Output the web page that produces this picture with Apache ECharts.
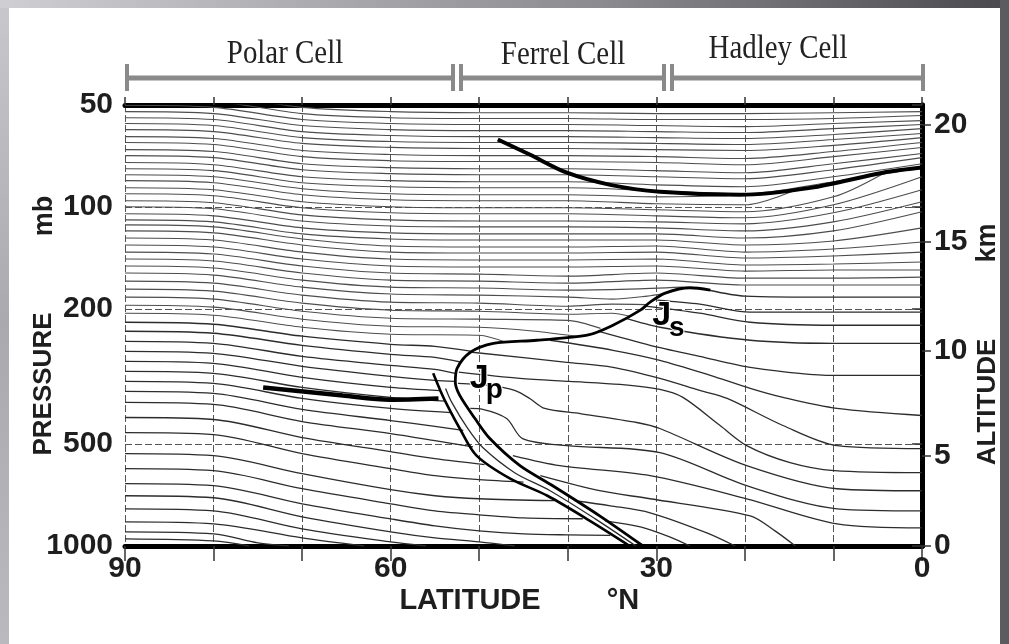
<!DOCTYPE html>
<html>
<head>
<meta charset="utf-8">
<title>Isentropes and the three-cell circulation</title>
<script src="https://cdn.jsdelivr.net/npm/echarts@6/dist/echarts.min.js"></script>
<style>
  html, body { margin: 0; padding: 0; background: #fff; }
  #chart { width: 1009px; height: 644px; }
</style>
</head>
<body>
<div id="chart"></div>
<script>
// ---- axes ----
const latTicks = [90, 60, 30, 0];                 // labelled latitudes (°N)
const pressureTicks = [50, 100, 200, 500, 1000];   // mb
const altitudeKm = [0, 5, 10, 15, 20];             // right-hand scale
const altitudePressure = [1000, 540, 265, 127, 57];// mb at those heights

// ---- circulation cells along the top ----
const cellNames = ['Polar Cell', 'Ferrel Cell', 'Hadley Cell'];

// ---- isentropes: pressure (mb) at the sample latitudes ----
const latSamples = [90, 80, 70, 60, 50, 40, 30, 20, 10, 0];
const upperIsentropes = [
  [46.2, 46.8, 50.8, 52.3, 52.7, 52.7, 53.0, 53.0, 52.7, 52.3],
  [48.2, 48.8, 53.0, 54.5, 54.8, 54.8, 55.2, 55.2, 54.8, 53.7],
  [50.1, 50.8, 55.2, 56.7, 57.1, 57.1, 57.5, 57.9, 56.7, 55.6],
  [52.3, 53.0, 57.5, 59.1, 59.5, 59.5, 59.9, 60.3, 58.7, 57.1],
  [54.5, 55.2, 59.9, 61.5, 62.0, 62.0, 62.4, 62.8, 61.1, 58.7],
  [56.7, 57.5, 62.4, 64.1, 64.5, 64.5, 64.9, 65.4, 63.2, 60.7],
  [59.1, 59.9, 64.9, 66.7, 67.2, 67.2, 67.7, 68.1, 65.8, 62.4],
  [62.0, 62.8, 68.1, 70.0, 70.5, 70.5, 71.0, 71.9, 68.6, 64.5],
  [64.5, 65.4, 71.0, 73.0, 73.4, 73.4, 73.9, 75.0, 71.0, 66.7],
  [67.7, 68.6, 74.5, 76.5, 77.1, 77.1, 78.1, 79.2, 74.5, 69.5],
  [70.5, 71.5, 77.6, 79.7, 80.3, 80.3, 81.4, 82.5, 77.6, 71.5],
  [73.9, 75.0, 81.4, 83.6, 84.2, 84.2, 86.0, 87.1, 81.4, 74.5],
  [77.1, 78.1, 84.8, 87.1, 87.7, 87.7, 89.5, 91.4, 84.2, 76.5],
  [91.4, 92.6, 100.5, 104.0, 104.7, 104.7, 106.2, 107.6, 98.5, 81.4],
  [95.8, 97.1, 105.5, 109.1, 109.9, 109.9, 110.6, 112.1, 104.0, 88.9],
  [99.8, 101.2, 109.9, 113.7, 114.4, 114.4, 115.2, 117.6, 110.6, 96.5],
  [104.7, 106.2, 115.2, 119.2, 120.0, 120.0, 120.0, 123.4, 117.6, 103.3],
  [109.1, 110.6, 120.0, 124.2, 125.1, 125.1, 125.1, 129.4, 125.9, 115.2],
  [112.9, 114.4, 124.2, 130.3, 131.2, 131.2, 130.3, 135.8, 133.0, 126.8],
  [117.6, 119.2, 129.4, 135.8, 136.7, 136.7, 135.8, 141.4, 139.4, 135.8],
  [123.4, 125.1, 135.8, 142.4, 143.3, 143.3, 142.4, 148.3, 147.3, 145.3],
  [129.4, 131.2, 142.4, 149.3, 150.3, 150.3, 149.3, 154.5, 153.4, 153.4],
  [135.8, 137.6, 149.3, 156.6, 157.7, 159.9, 156.6, 162.1, 162.1, 161.0],
  [142.4, 144.3, 156.6, 164.3, 165.4, 167.7, 164.3, 169.9, 169.9, 169.9]
];

// upper lines that end on the tropopause or at the subtropical jet: [lat, mb]
const upperEndingIsentropes = [
  [[90, 80.3], [80, 81.4], [70, 88.3], [60, 91.4], [50, 92.0], [40, 92.0], [30, 93.3], [22, 92.6]],
  [[90, 83.6], [80, 84.8], [70, 92.0], [60, 95.2], [50, 95.8], [40, 95.8], [30, 97.8], [20, 98.5], [14, 88.5]],
  [[90, 87.7], [80, 88.9], [70, 96.5], [60, 99.8], [50, 100.5], [40, 100.5], [30, 101.9], [20, 103.3], [10, 93.3], [4.5, 80]],
  [[90, 149.3], [80, 151.3], [70, 164.3], [60, 172.3], [50, 173.4], [40, 175.8], [33, 174.6], [27, 172.3]],
  [[90, 156.6], [80, 158.8], [70, 172.3], [60, 180.6], [50, 181.9], [40, 184.4], [35, 186.9], [31, 183.1], [29.2, 180]],
  [[90, 165.4], [80, 167.7], [70, 181.9], [60, 190.8], [50, 192.1], [40, 196.1], [35, 193.4], [31.2, 194]],
  [[90, 174.6], [80, 177.0], [70, 192.1], [60, 201.5], [50, 202.9], [40, 207.1], [35, 205.7], [33, 210]],
  [[90, 184.4], [80, 186.9], [70, 202.9], [60, 212.8], [50, 214.2], [40, 216], [36.3, 228]],
  [[90, 194.8], [80, 197.4], [70, 214.2], [60, 224.7], [50, 226.3], [44, 232], [39, 240.5]],
  [[90, 205.7], [80, 208.5], [70, 226.3], [60, 237.3], [50, 238.9], [47, 250.6]]
];

// polar troposphere, ending at the polar front or the ground
const polarIsentropes = [
  [[90, 218.7], [80, 221.7], [70, 240.5], [60, 254.1], [55, 257.6], [51, 266]],
  [[90, 232.5], [80, 235.7], [70, 255.8], [60, 271.9], [55, 277.6], [52, 287]],
  [[90, 248.9], [80, 252.4], [70, 275.7], [60, 293.1], [55, 301.2], [52.6, 310]],
  [[90, 266.4], [80, 270.1], [70, 295.1], [60, 315.9], [55, 324.6], [52.8, 327]],
  [[90, 285.2], [80, 289.1], [70, 318.1], [60, 340.5], [54.4, 348]],
  [[90, 305.4], [80, 309.5], [70, 340.5], [60, 364.5], [53.8, 374]],
  [[90, 326.9], [80, 331.4], [70, 367.0], [60, 392.8], [53.2, 404]],
  [[90, 349.9], [80, 354.7], [70, 395.5], [60, 426.4], [55, 444], [51.8, 456]],
  [[90, 377.1], [80, 382.3], [70, 429.3], [60, 465.8], [55, 488.6], [50.7, 510]],
  [[90, 417.8], [80, 423.5], [70, 478.7], [60, 526.7], [55, 552.4], [49.4, 575]],
  [[90, 462.7], [80, 469.0], [70, 533.9], [60, 591.4], [55, 620.2], [50, 637.4], [45, 648]],
  [[90, 533.9], [80, 541.2], [70, 611.9], [60, 682.3], [55, 710.8], [50, 725.5], [41.5, 735]],
  [[90, 591.4], [80, 599.5], [70, 677.7], [60, 750.6], [55, 787.3], [50, 809.1], [45, 825.8], [38.3, 831]],
  [[90, 654.9], [80, 664.0], [70, 750.6], [60, 831.5], [55, 872.0], [50, 902.2], [45, 920.9], [40, 927.2], [35.2, 930]],
  [[90, 710.8], [80, 720.6], [70, 820.2], [60, 908.4], [55, 946.3], [50, 972.5], [46, 1000]],
  [[90, 776.6], [80, 787.3], [70, 890.0], [60, 972.5], [56, 1000]],
  [[90, 848.6], [80, 860.2], [70, 946.3], [63, 1000]],
  [[90, 908.4], [80, 920.9], [75, 979.1], [71.5, 1000]],
  [[90, 952.8], [80, 965.9], [76, 1000]]
];

// subtropical / tropical troposphere, starting at the front
const tropicalIsentropes = [
  [[24, 176], [20, 183.1], [10, 184.4], [0, 184.4]],
  [[29.9, 188.2], [25.1, 193.4], [19.4, 204.3], [10, 204.3], [0, 204.3]],
  [[31.3, 196.1], [25.1, 205.7], [19.4, 218.7], [10, 223.2], [0, 223.2]],
  [[33.5, 212.8], [29.6, 226.3], [19.4, 247.2], [10, 252.4], [0, 252.4]],
  [[36.6, 232.5], [30.7, 255.8], [25.1, 275.7], [19.4, 297.1], [10, 313.8], [0, 313.8]],
  [[42.0, 247.2], [34.9, 264.6], [29.6, 283.3], [23.9, 313.8], [19.4, 342.8], [15.7, 364.5], [9.6, 392.8], [0, 412.1]],
  [[50.8, 268.2], [40.1, 287.2], [34.9, 297.1], [29.6, 320.3], [25.1, 347.5], [22.0, 367.0], [15.7, 441.1], [9.6, 505.6], [0, 516.0]],
  [[52.3, 307], [45.4, 320.3], [39.8, 326.9], [34.1, 333.6], [29.6, 345.2], [27.0, 364.5], [22.8, 441.1], [19.8, 505.6], [14.9, 567.6], [9.9, 599.5], [0, 607.7]],
  [[52.4, 331.4], [48.8, 335.9], [46.0, 347.5], [44.3, 367.0], [42.6, 392.8], [38.6, 406.9], [32.2, 432.2], [29.6, 450.2], [19.8, 579.4], [9.6, 677.7], [0, 687.0]],
  [[51.0, 392.8], [49.6, 395], [46.9, 420.6], [45.1, 482.0], [40.1, 505.6], [29.6, 530.3], [19.8, 664.0], [9.6, 776.6], [0, 787.3]],
  [[46.2, 541.2], [40.9, 579.4], [30.7, 620.2], [19.8, 725.5], [9.6, 860.2], [0, 884.0]],
  [[43.1, 620.2], [36.4, 687.0], [30.7, 725.5], [19.4, 814.6], [16.6, 902.2], [14.3, 1000]],
  [[39.2, 735.4], [35.2, 760.9], [30.7, 797.9], [24.3, 914.6], [21.1, 1000]],
  [[35.8, 842.8], [31.8, 878.0], [28.5, 939.9], [26.2, 1000]]
];

// isentrope inside the frontal zone
const frontalZoneIsentrope = [[53.8, 343], [53.1, 377], [51.3, 450], [49.6, 512.5], [46.0, 607.7], [42.0, 687], [36.9, 831.5], [32.3, 1000]];

// ---- tropopauses and front boundaries ----
const tropopauseTropical = [[47.9, 63.2], [44.3, 70.0], [40.1, 79.2], [35.2, 86.0], [29.6, 90.1], [20.6, 92.0], [12.6, 87.8], [4.4, 79.2], [0, 76.5]];
const tropopausePolar = [[74.4, 340.6], [65.4, 359.6], [60.1, 370], [54.6, 367]];
const frontWarmEdge = [[23.9, 175.8], [26.2, 173], [29.0, 179.4], [30.7, 190.8], [31.8, 201.5], [34.9, 223.2], [37.8, 238.9], [43.5, 247.2], [48.4, 252.4], [51.0, 268.2], [52.5, 299.2], [52.7, 329], [52.2, 359.6], [50.5, 420], [48.8, 482], [45.4, 579.4], [41.7, 664], [36.4, 814.6], [31.5, 1000]];
const frontColdEdge = [[55.2, 309.5], [54.4, 347.5], [53.6, 384.9], [52.2, 450.2], [50.3, 541.2], [46.5, 633], [42.3, 710.8], [37.5, 842.8], [33.0, 1000]];

// jet-stream labels: text, latitude, pressure (mb), font size
const jetLabels = [
  ['J', 50.0, 320, 34], ['p', 48.3, 347.5, 28],
  ['J', 29.4, 208.5, 34], ['s', 27.7, 227.8, 28]
];

const SANS = '"Liberation Sans", Arial, Helvetica, sans-serif';
const SERIF = '"Liberation Serif", "Times New Roman", serif';
const INK = '#1e1e1e';

const logP = p => Math.log10(p);
const toXY = line => line.map(([lat, p]) => [lat, logP(p)]);

const series = [];
function addLine(line, color, width, smooth) {
  series.push({
    type: 'line', data: toXY(line), symbol: 'none', showSymbol: false,
    smooth: smooth == null ? 0.3 : smooth, clip: true, silent: true,
    lineStyle: { color: color, width: width }, z: 2
  });
}

upperIsentropes.forEach(row => addLine(row.map((p, i) => [latSamples[i], p]), '#4d4d4d', 1.1));
upperEndingIsentropes.forEach(l => addLine(l, '#4d4d4d', 1.1));
polarIsentropes.forEach(l => addLine(l, '#2c2c2c', 1.3));
tropicalIsentropes.forEach(l => addLine(l, '#2c2c2c', 1.3));
addLine(frontalZoneIsentrope, '#2c2c2c', 1.3);

addLine(tropopauseTropical, '#000', 4, 0.3);
addLine(tropopausePolar, '#000', 4.5, 0.3);
addLine(frontWarmEdge, '#000', 2.8, 0.3);
addLine(frontColdEdge, '#000', 2.6, 0.3);
series.slice(-4).forEach(s => { s.z = 4; });

series.push({
  type: 'scatter', symbolSize: 0, silent: true, z: 6,
  itemStyle: { opacity: 1 },
  data: jetLabels.map(([t, lat, p, fs]) => ({
    value: [lat, logP(p)],
    label: {
      show: true, position: 'inside', formatter: t, opacity: 1,
      fontFamily: SANS, fontWeight: 'bold', fontSize: fs, color: '#000',
      textBorderColor: '#fff', textBorderWidth: 2
    }
  }))
});

const axisLabelStyle = { fontFamily: SANS, fontWeight: 'bold', fontSize: 30, color: INK };
const frameLine = { show: true, lineStyle: { color: '#000', width: 5 } };
const gridLine = { show: true, lineStyle: { color: '#555', width: 1, type: [7, 3] } };
const pMin = logP(pressureTicks[0]), pMax = logP(pressureTicks[pressureTicks.length - 1]);

function kmLabel(v) {
  let best = 0;
  altitudePressure.forEach((p, i) => {
    if (Math.abs(logP(p) - v) < Math.abs(logP(altitudePressure[best]) - v)) best = i;
  });
  return String(altitudeKm[best]);
}

// header brackets (x positions of the bracket ends)
const bracketEnds = [[127, 453], [461, 664], [672, 923]];
const bracketY = 78;
const graphics = [
  { type: 'rect', silent: true, shape: { x: 0, y: 0, width: 9, height: 644 },
    style: { fill: new echarts.graphic.LinearGradient(0, 0, 0, 1, [{ offset: 0, color: '#c8c8cc' }, { offset: 0.5, color: '#a9a9ae' }, { offset: 1, color: '#b9b9be' }]) } },
  { type: 'rect', silent: true, shape: { x: 0, y: 0, width: 1009, height: 8 },
    style: { fill: new echarts.graphic.LinearGradient(0, 0, 1, 0, [{ offset: 0, color: '#cfcfd3' }, { offset: 0.6, color: '#8a8a8f' }, { offset: 1, color: '#4a4a4e' }]) } },
  { type: 'rect', silent: true, shape: { x: 1000, y: 0, width: 9, height: 644 }, style: { fill: '#5c5c60' } }
];
bracketEnds.forEach(([a, b]) => {
  graphics.push({ type: 'line', silent: true, shape: { x1: a, y1: bracketY, x2: b, y2: bracketY }, style: { stroke: '#8a8a8a', lineWidth: 5 } });
  [a, b].forEach(x => graphics.push({ type: 'line', silent: true, shape: { x1: x, y1: 64, x2: x, y2: 91 }, style: { stroke: '#8a8a8a', lineWidth: 4 } }));
});
const cellTextPos = [[285, 54], [563, 55], [778, 49]];
cellNames.forEach((name, i) => graphics.push({
  type: 'text', silent: true, x: cellTextPos[i][0], y: cellTextPos[i][1], scaleX: 0.85,
  style: { text: name, font: '34px ' + SERIF, fill: '#222', align: 'center', verticalAlign: 'middle' }
}));
const sideText = (text, x, y, rot, size) => ({
  type: 'text', silent: true, x: x, y: y, rotation: rot,
  style: { text: text, font: 'bold ' + size + 'px ' + SANS, fill: INK, align: 'center', verticalAlign: 'middle' }
});
graphics.push(sideText('PRESSURE', 44, 384, Math.PI / 2, 26));
graphics.push(sideText('mb', 45, 216, Math.PI / 2, 27));
graphics.push(sideText('ALTITUDE', 988, 402, Math.PI / 2, 26));
graphics.push(sideText('km', 988, 243, Math.PI / 2, 27));
graphics.push(sideText('LATITUDE', 470, 601, 0, 29));
graphics.push(sideText('°N', 623, 601, 0, 29));

const chart = echarts.init(document.getElementById('chart'), null, { renderer: 'canvas' });
chart.setOption({
  animation: false,
  backgroundColor: '#ffffff',
  grid: { left: 125, right: 87, top: 105, bottom: 98, containLabel: false, outerBoundsMode: 'none' },
  xAxis: [
    {
      type: 'value', min: 0, max: 90, interval: 10, inverse: true, position: 'bottom',
      axisLine: frameLine,
      axisTick: { show: true, length: 15, lineStyle: { color: '#333', width: 1.5 } },
      axisLabel: Object.assign({ customValues: latTicks, margin: 8 }, axisLabelStyle),
      splitLine: gridLine
    },
    {
      type: 'value', min: 0, max: 90, interval: 10, inverse: true, position: 'top',
      axisLine: frameLine,
      axisTick: { show: true, length: 8, lineStyle: { color: '#333', width: 1.5 } },
      axisLabel: { show: false }, splitLine: { show: false }
    }
  ],
  yAxis: [
    {
      type: 'value', inverse: true, min: pMin, max: pMax, position: 'left',
      axisLine: frameLine,
      axisTick: { show: true, length: 10, customValues: pressureTicks.map(logP), lineStyle: { color: '#333', width: 1.5 } },
      axisLabel: Object.assign({ customValues: pressureTicks.map(logP), margin: 12,
        formatter: v => String(Math.round(Math.pow(10, v))) }, axisLabelStyle),
      splitLine: gridLine
    },
    {
      type: 'value', inverse: true, min: pMin, max: pMax, position: 'right',
      axisLine: frameLine,
      axisTick: { show: true, length: 9, customValues: altitudePressure.map(logP), lineStyle: { color: '#333', width: 1.5 } },
      axisLabel: Object.assign({ customValues: altitudePressure.map(logP), margin: 12, formatter: kmLabel }, axisLabelStyle),
      splitLine: { show: false }
    }
  ],
  series: series,
  graphic: graphics
});
</script>
</body>
</html>
